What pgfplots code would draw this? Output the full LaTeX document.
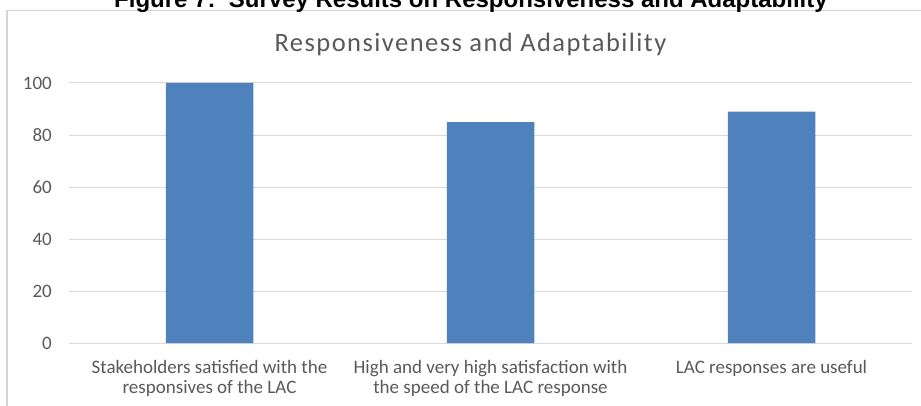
\documentclass[border=0pt]{standalone}
\usepackage{fontspec}
\setmainfont{Carlito}
\newfontfamily\captionfont{Liberation Sans}
\newfontfamily\titlefont{Carlito}[LetterSpace=5.5]
\usepackage{pgfplots}
\pgfplotsset{compat=1.18}

\definecolor{barblue}{HTML}{4F81BD}
\definecolor{gridgray}{HTML}{D9D9D9}
\definecolor{textgray}{HTML}{595959}
\definecolor{bordergray}{HTML}{D4D4D4}

\begin{document}
\begin{tikzpicture}[x=1pt,y=1pt]
% chart frame (left and top edges)
\draw[bordergray, line width=1.3pt] (7,-5) -- (7,394.3) -- (930,394.3);

% figure caption above the chart frame
\node[anchor=base, inner sep=0pt, text=black,
      font=\captionfont\bfseries\fontsize{24}{28}\selectfont]
  at (471,397.5) {Figure 7:\ \ Survey Results on Responsiveness and Adaptability};

% chart title
\node[anchor=base, inner sep=0pt, text=textgray,
      font=\titlefont\fontsize{26.5}{30}\selectfont]
  at (470.5,353) {Responsiveness and Adaptability};

\begin{axis}[
  at={(69pt,62pt)}, anchor=south west,
  scale only axis, width=843pt, height=260pt,
  xmin=-0.5, xmax=2.5, ymin=0, ymax=100,
  ytick={0,20,40,60,80,100},
  xtick={0,1,2},
  xticklabels={{Stakeholders satisfied with the\\responsives of the LAC},
               {High and very high satisfaction with\\the speed of the LAC response},
               {LAC responses are useful}},
  axis line style={draw=none},
  tick style={draw=none},
  ymajorgrids,
  grid style={draw=gridgray, line width=1pt},
  /pgf/number format/assume math mode=true,
  yticklabel style={anchor=east, inner sep=0pt, xshift=-17pt,
                    text=textgray, font=\fontsize{19}{20}\selectfont},
  xticklabel style={anchor=north, inner sep=0pt, yshift=-13pt, align=center,
                    text=textgray, font=\fontsize{19}{20}\selectfont},
  ybar, bar width=87.5pt,
]
\addplot[fill=barblue, draw=none] coordinates {(0,100) (1,85) (2,89)};
\end{axis}

\pgfresetboundingbox
\path[use as bounding box] (0,0) rectangle (921,405);
\end{tikzpicture}
\end{document}
